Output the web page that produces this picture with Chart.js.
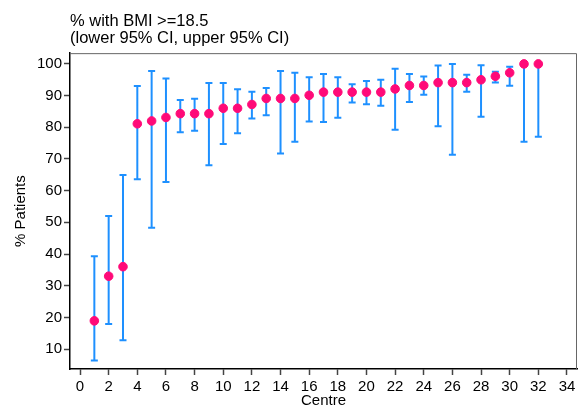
<!DOCTYPE html>
<html lang="en">
<head>
  <meta charset="UTF-8">
  <title>% with BMI >=18.5</title>
  <script src="https://cdn.jsdelivr.net/npm/chart.js"></script>
  <style>
    body { margin: 0; background: #fff; }
    #wrap { width: 583px; height: 408px; }
  </style>
</head>
<body>
  <div id="wrap"><canvas id="bmiChart"></canvas></div>

  <script>
    // Data
    const centres = [1, 2, 3, 4, 5, 6, 7, 8, 9, 10, 11, 12, 13, 14, 15, 16,
                     17, 18, 19, 20, 21, 22, 23, 24, 25, 26, 27, 28, 29, 30, 31, 32];
    const pct   = [18.9, 33, 36, 81.1, 82, 83.1, 84.3, 84.3, 84.3, 86, 86, 87.2, 89.1, 89.1, 89.1, 90.1,
                   91.1, 91.1, 91.1, 91.1, 91.1, 92.1, 93.2, 93.2, 94.1, 94.1, 94.1, 95, 96.1, 97.2, 100, 100];
    const lower = [6.4, 17.9, 12.8, 63.6, 48.3, 62.7, 78.4, 78.9, 68, 74.7, 78.1, 82.8, 83.8, 71.7, 75.4, 81.8,
                   81.7, 83, 87.8, 87.3, 86.8, 79.2, 88, 90.3, 80.3, 71.3, 91.2, 83.3, 94.1, 93.1, 75.4, 77];
    const upper = [39.3, 52, 64.9, 93, 97.8, 95.4, 88.6, 89, 94, 94, 92, 91.2, 92.4, 97.8, 97.2, 95.8,
                   96.8, 95.8, 93.6, 94.6, 95, 98.5, 96.8, 96, 99.5, 100, 96.6, 99.6, 97.5, 99.1, 100, 100];
    const xTicks = [0, 2, 4, 6, 8, 10, 12, 14, 16, 18, 20, 22, 24, 26, 28, 30, 32, 34];
    const yTicks = [10, 20, 30, 40, 50, 60, 70, 80, 90, 100];

    const blue = '#1e90ff';
    const pink = '#ff0a78';
    const font = 'Liberation Sans, Arial, Helvetica, sans-serif';

    // whisker lines: one segment per centre, broken by a null point
    const whiskers = [];
    const caps = [];
    centres.forEach((c, i) => {
      whiskers.push({ x: c, y: lower[i] }, { x: c, y: upper[i] }, { x: c, y: null });
      caps.push({ x: c, y: lower[i] }, { x: c, y: upper[i] });
    });

    // grey frame on top/right of plot region
    const frame = {
      id: 'frame',
      beforeDatasetsDraw(chart) {
        const { ctx, chartArea: a } = chart;
        ctx.save();
        ctx.strokeStyle = '#666';
        ctx.lineWidth = 1;
        ctx.beginPath();
        ctx.moveTo(a.left, a.top + 0.5);
        ctx.lineTo(a.right - 0.5, a.top + 0.5);
        ctx.lineTo(a.right - 0.5, a.bottom);
        ctx.stroke();
        ctx.restore();
      }
    };

    new Chart(document.getElementById('bmiChart'), {
      type: 'scatter',
      data: {
        datasets: [
          {
            data: centres.map((c, i) => ({ x: c, y: pct[i] })),
            backgroundColor: pink,
            borderColor: pink,
            pointRadius: 4.3,
            order: 0
          },
          {
            data: caps,
            pointStyle: 'line',
            pointRadius: 3.5,
            borderColor: blue,
            pointBorderWidth: 2,
            order: 1
          },
          {
            data: whiskers,
            showLine: true,
            spanGaps: false,
            borderColor: blue,
            borderWidth: 2,
            pointRadius: 0,
            order: 2
          }
        ]
      },
      options: {
        responsive: true,
        maintainAspectRatio: false,
        animation: false,
        events: [],
        layout: { padding: { left: 0, right: 6, top: 0, bottom: 0 } },
        plugins: {
          legend: { display: false },
          tooltip: { enabled: false },
          title: {
            display: true,
            text: ['% with BMI >=18.5', '(lower 95% CI, upper 95% CI)'],
            align: 'start',
            fullSize: false,
            color: '#000',
            font: { family: font, size: 16.5, weight: 'normal', lineHeight: 1.05 },
            padding: { top: 12.5, bottom: 6 }
          }
        },
        scales: {
          x: {
            type: 'linear',
            min: -0.7,
            max: 34.7,
            afterFit(scale) { scale.height = 39; },
            afterBuildTicks(scale) { scale.ticks = xTicks.map(v => ({ value: v })); },
            grid: { drawOnChartArea: false, drawTicks: true, tickLength: 6, tickColor: '#444', tickWidth: 1.5 },
            border: { display: true, color: '#000', width: 1.5 },
            ticks: { autoSkip: false, maxRotation: 0, padding: 3, color: '#000', font: { family: font, size: 15 } },
            title: {
              display: true,
              text: 'Centre',
              color: '#000',
              font: { family: font, size: 15, lineHeight: 1 },
              padding: { top: -5, bottom: 0 }
            }
          },
          y: {
            type: 'linear',
            min: 3.7,
            max: 103.4,
            afterFit(scale) { scale.width = 70; },
            afterBuildTicks(scale) { scale.ticks = yTicks.map(v => ({ value: v })); },
            grid: { drawOnChartArea: false, drawTicks: true, tickLength: 6, tickColor: '#444', tickWidth: 1.5 },
            border: { display: true, color: '#000', width: 1.5 },
            ticks: { autoSkip: false, padding: 2, color: '#000', font: { family: font, size: 15 } },
            title: {
              display: true,
              text: '% Patients',
              color: '#000',
              font: { family: font, size: 15, lineHeight: 1.2 },
              padding: { top: 12, bottom: 0 }
            }
          }
        }
      },
      plugins: [frame]
    });
  </script>
</body>
</html>
